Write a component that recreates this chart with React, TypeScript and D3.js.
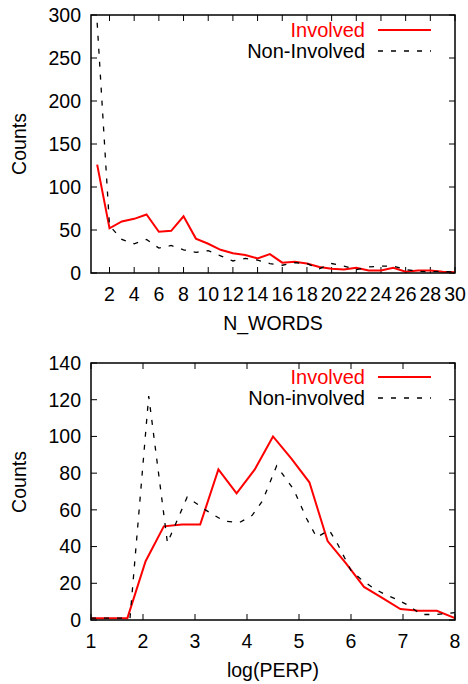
import React, { useEffect, useRef } from 'react';
import * as d3 from 'd3';

// top panel: N_WORDS histogram
const wordsX = [1, 2, 3, 4, 5, 6, 7, 8, 9, 10, 11, 12, 13, 14, 15, 16, 17, 18, 19, 20, 21, 22, 23, 24, 25, 26, 27, 28, 29, 30];
const wordsInvolved = [126, 52, 60, 63, 68, 48, 49, 66, 40, 34, 27, 23, 21, 17, 22, 12, 13, 11, 7, 5, 4, 6, 3, 3, 6, 1.5, 3, 3, 1.5, 1];
const wordsNonInvolved = [291, 55, 39, 34, 39, 29, 32, 27, 24, 26, 20, 14, 17, 15, 11, 9, 12, 11, 5, 11, 8, 4, 7, 8, 8, 4, 2, 1.5, 2, 1];
const wordsXTicks = [2, 4, 6, 8, 10, 12, 14, 16, 18, 20, 22, 24, 26, 28, 30];
const wordsYTicks = [0, 50, 100, 150, 200, 250, 300];

// bottom panel: log(PERP) histogram
const perpInvolvedX = [1, 1.35, 1.7, 2.05, 2.4, 2.75, 3.1, 3.45, 3.8, 4.15, 4.5, 4.85, 5.2, 5.55, 5.9, 6.25, 6.6, 6.95, 7.3, 7.65, 8];
const perpInvolved = [1, 1, 1, 32, 51, 52, 52, 82, 69, 82, 100, 88, 75, 43, 31, 18, 12, 6, 5, 5, 1];
const perpNonInvolvedX = [1, 1.75, 2.11, 2.47, 2.85, 3.2, 3.55, 3.85, 4.1, 4.3, 4.57, 4.9, 5.15, 5.34, 5.58, 5.75, 6.0, 6.2, 6.45, 6.65, 6.9, 7.1, 7.35, 7.65, 8];
const perpNonInvolved = [1, 1, 122, 42, 67, 60, 54, 53, 57, 65, 84, 71, 55, 45, 49, 41, 27, 22, 17, 14, 11, 8, 3, 3, 4];
const perpXTicks = [1, 2, 3, 4, 5, 6, 7, 8];
const perpYTicks = [0, 20, 40, 60, 80, 100, 120, 140];

const FONT = '"Liberation Sans", Arial, sans-serif';

const drawPanel = (svg: any, opts: any) => {
  const { x, y, xTicks, yTicks, xLabel, series, legendTop, labelY } = opts;
  const [left, right] = x.range();
  const [bottom, top] = y.range();
  const g = svg.append('g');
  const tick = 6;

  // ticks (mirrored on all sides)
  xTicks.forEach((t: number) => {
    g.append('line').attr('x1', x(t)).attr('x2', x(t)).attr('y1', bottom).attr('y2', bottom - tick).attr('stroke', 'black');
    g.append('line').attr('x1', x(t)).attr('x2', x(t)).attr('y1', top).attr('y2', top + tick).attr('stroke', 'black');
    g.append('text')
      .attr('x', x(t)).attr('y', bottom + 28)
      .attr('text-anchor', 'middle')
      .attr('font-family', FONT).attr('font-size', 19.5)
      .text(t);
  });
  yTicks.forEach((t: number) => {
    g.append('line').attr('x1', left).attr('x2', left + tick).attr('y1', y(t)).attr('y2', y(t)).attr('stroke', 'black');
    g.append('line').attr('x1', right).attr('x2', right - tick).attr('y1', y(t)).attr('y2', y(t)).attr('stroke', 'black');
    g.append('text')
      .attr('x', left - 10).attr('y', y(t)).attr('dy', '0.35em')
      .attr('text-anchor', 'end')
      .attr('font-family', FONT).attr('font-size', 19.5)
      .text(t);
  });

  // series
  series.forEach((s: any) => {
    const line = d3.line<number>()
      .x((_d, i) => x(s.xs[i]))
      .y((d) => y(d));
    g.append('path')
      .attr('d', line(s.ys))
      .attr('fill', 'none')
      .attr('stroke', s.color)
      .attr('stroke-width', s.width)
      .attr('stroke-dasharray', s.dash || null);
  });

  // frame
  g.append('rect')
    .attr('x', left).attr('y', top)
    .attr('width', right - left).attr('height', bottom - top)
    .attr('fill', 'none').attr('stroke', 'black').attr('stroke-width', 1.5);

  // legend
  series.forEach((s: any, i: number) => {
    const ly = legendTop + i * 21;
    g.append('text')
      .attr('x', 365).attr('y', ly + 7)
      .attr('text-anchor', 'end')
      .attr('font-family', FONT).attr('font-size', 20)
      .attr('fill', s.textColor)
      .text(s.name);
    g.append('line')
      .attr('x1', 378).attr('x2', 431).attr('y1', ly).attr('y2', ly)
      .attr('stroke', s.color).attr('stroke-width', s.width)
      .attr('stroke-dasharray', s.dash || null);
  });

  // axis titles
  g.append('text')
    .attr('transform', `translate(26, ${labelY}) rotate(-90)`)
    .attr('text-anchor', 'middle')
    .attr('font-family', FONT).attr('font-size', 19.5)
    .text('Counts');
  g.append('text')
    .attr('x', (left + right) / 2).attr('y', bottom + 57)
    .attr('text-anchor', 'middle')
    .attr('font-family', FONT).attr('font-size', 19.5)
    .text(xLabel);
};

const App = () => {
  const svgRef: any = useRef();

  useEffect(() => {
    const svg = d3.select(svgRef.current);
    svg.selectAll('*').remove();

    const x1 = d3.scaleLinear().domain([0.5, 30]).range([91, 455]);
    const y1 = d3.scaleLinear().domain([0, 300]).range([273, 15]);
    drawPanel(svg, {
      x: x1, y: y1, xTicks: wordsXTicks, yTicks: wordsYTicks, xLabel: 'N_WORDS',
      legendTop: 30, labelY: 144,
      series: [
        { name: 'Involved', xs: wordsX, ys: wordsInvolved, color: 'red', textColor: 'red', width: 2 },
        { name: 'Non-Involved', xs: wordsX, ys: wordsNonInvolved, color: 'black', textColor: 'black', width: 1.3, dash: '5,8' },
      ],
    });

    const x2 = d3.scaleLinear().domain([1, 8]).range([91, 455]);
    const y2 = d3.scaleLinear().domain([0, 140]).range([620, 363]);
    drawPanel(svg, {
      x: x2, y: y2, xTicks: perpXTicks, yTicks: perpYTicks, xLabel: 'log(PERP)',
      legendTop: 377, labelY: 482,
      series: [
        { name: 'Involved', xs: perpInvolvedX, ys: perpInvolved, color: 'red', textColor: 'red', width: 2 },
        { name: 'Non-involved', xs: perpNonInvolvedX, ys: perpNonInvolved, color: 'black', textColor: 'black', width: 1.3, dash: '5,8' },
      ],
    });
  }, []);

  return (
    <svg
      ref={svgRef}
      width={468}
      height={684}
      style={{ position: 'absolute', left: 0, top: 0, background: 'white' }}
    />
  );
};

export default App;
